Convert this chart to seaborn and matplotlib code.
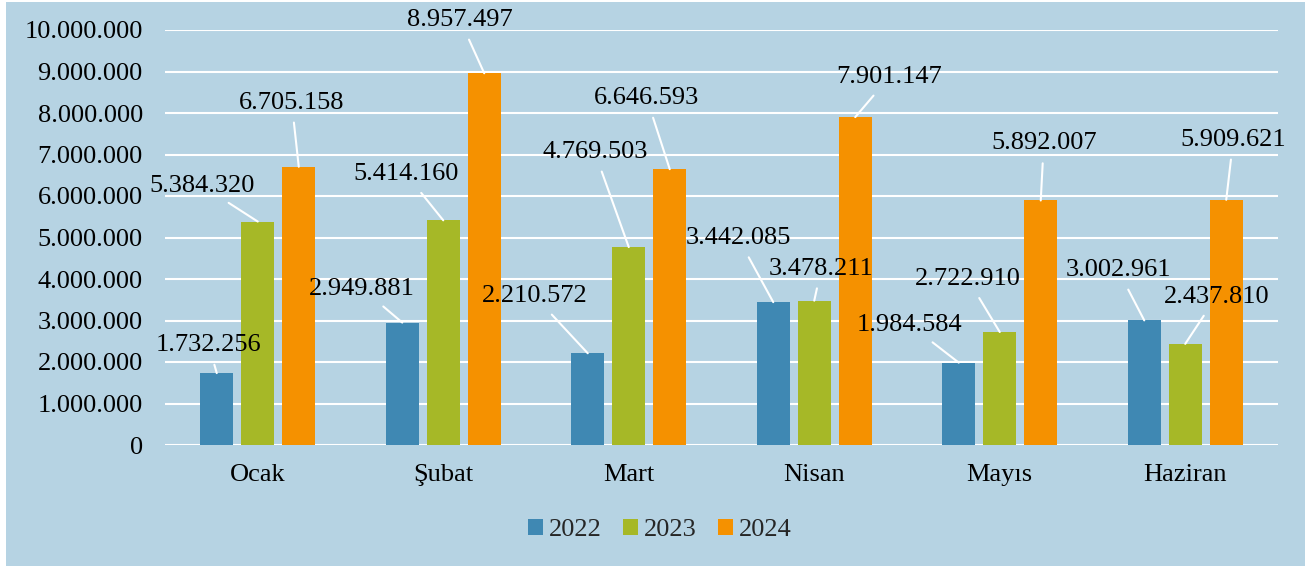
import matplotlib
matplotlib.use("Agg")
import matplotlib.pyplot as plt
from matplotlib.patches import Rectangle
import seaborn as sns
import pandas as pd

months = ["Ocak", "Şubat", "Mart", "Nisan", "Mayıs", "Haziran"]
years = ["2022", "2023", "2024"]
v2022 = [1732256, 2949881, 2210572, 3442085, 1984584, 3002961]
v2023 = [5384320, 5414160, 4769503, 3478211, 2722910, 2437810]
v2024 = [6705158, 8957497, 6646593, 7901147, 5892007, 5909621]
yticks = [0, 1000000, 2000000, 3000000, 4000000, 5000000, 6000000, 7000000, 8000000, 9000000, 10000000]

# label offsets (pixels) from bar top to label centre, per year, per month
off2022 = [(-8, 28), (-40, 34), (-53, 57), (-35, 64), (-49, 38), (-26, 50)]
off2023 = [(-56, 36), (-37, 46), (-34, 95), (7, 32), (-32, 53), (31, 47)]
off2024 = [(-7, 64), (-24, 53), (-23, 71), (34, 40), (3, 57), (7, 60)]

colors = ["#3F88B3", "#A6B827", "#F59100"]
bg = "#B6D3E3"
FS = 19

sns.set_theme(style="white")
plt.rcParams["font.family"] = ["Liberation Serif", "DejaVu Serif"]

rows = []
for y, vals in zip(years, [v2022, v2023, v2024]):
    for m, v in zip(months, vals):
        rows.append({"ay": m, "yıl": y, "değer": v})
df = pd.DataFrame(rows)

W, H = 1305, 566
fig = plt.figure(figsize=(W / 100, H / 100), dpi=100, facecolor="white")
fig.patches.append(Rectangle((6 / W, 0), 1 - 6 / W, 1 - 2 / H, transform=fig.transFigure,
                             facecolor=bg, edgecolor="none", zorder=-10))
ax = fig.add_axes([165 / W, 1 - 445 / H, (1278 - 165) / W, (445 - 30) / H])
ax.patch.set_alpha(0)

sns.barplot(data=df, x="ay", y="değer", hue="yıl", hue_order=years, order=months,
            palette=colors, width=0.663, gap=0.195, saturation=1, linewidth=0,
            ax=ax, legend=True)

ax.set_ylim(0, 10000000)
ax.set_xlim(-0.5, 5.5)
ax.set_yticks(yticks)
ax.set_yticklabels([f"{v:,}".replace(",", ".") for v in yticks])
ax.yaxis.grid(True, color="white", linewidth=1.5)
ax.xaxis.grid(False)
ax.set_axisbelow(True)
for s in ax.spines.values():
    s.set_visible(False)
ax.tick_params(axis="y", length=0, pad=16, labelsize=FS, colors="black")
ax.tick_params(axis="x", length=0, pad=14, labelsize=FS, colors="black")
ax.set_xlabel("")
ax.set_ylabel("")

offsets = [off2022, off2023, off2024]
for cont, offs, vals in zip(ax.containers, offsets, [v2022, v2023, v2024]):
    for bar, (dx, dy), v in zip(cont, offs, vals):
        xc = bar.get_x() + bar.get_width() / 2
        ax.annotate(f"{v:,}".replace(",", "."), xy=(xc, bar.get_height()),
                    xytext=(dx, dy), textcoords="offset pixels",
                    ha="center", va="center", fontsize=FS, color="black",
                    arrowprops=dict(arrowstyle="-", color="white", lw=1.5,
                                    shrinkA=4, shrinkB=0),
                    annotation_clip=False)

leg = ax.legend(loc="center", bbox_to_anchor=(660 / W, 1 - 530 / H),
                bbox_transform=fig.transFigure, ncol=3, frameon=False,
                fontsize=FS, handlelength=0.55, handleheight=0.55,
                handletextpad=0.25, columnspacing=0.8, borderaxespad=0)

fig.savefig("out.png", dpi=100, facecolor=fig.get_facecolor())
